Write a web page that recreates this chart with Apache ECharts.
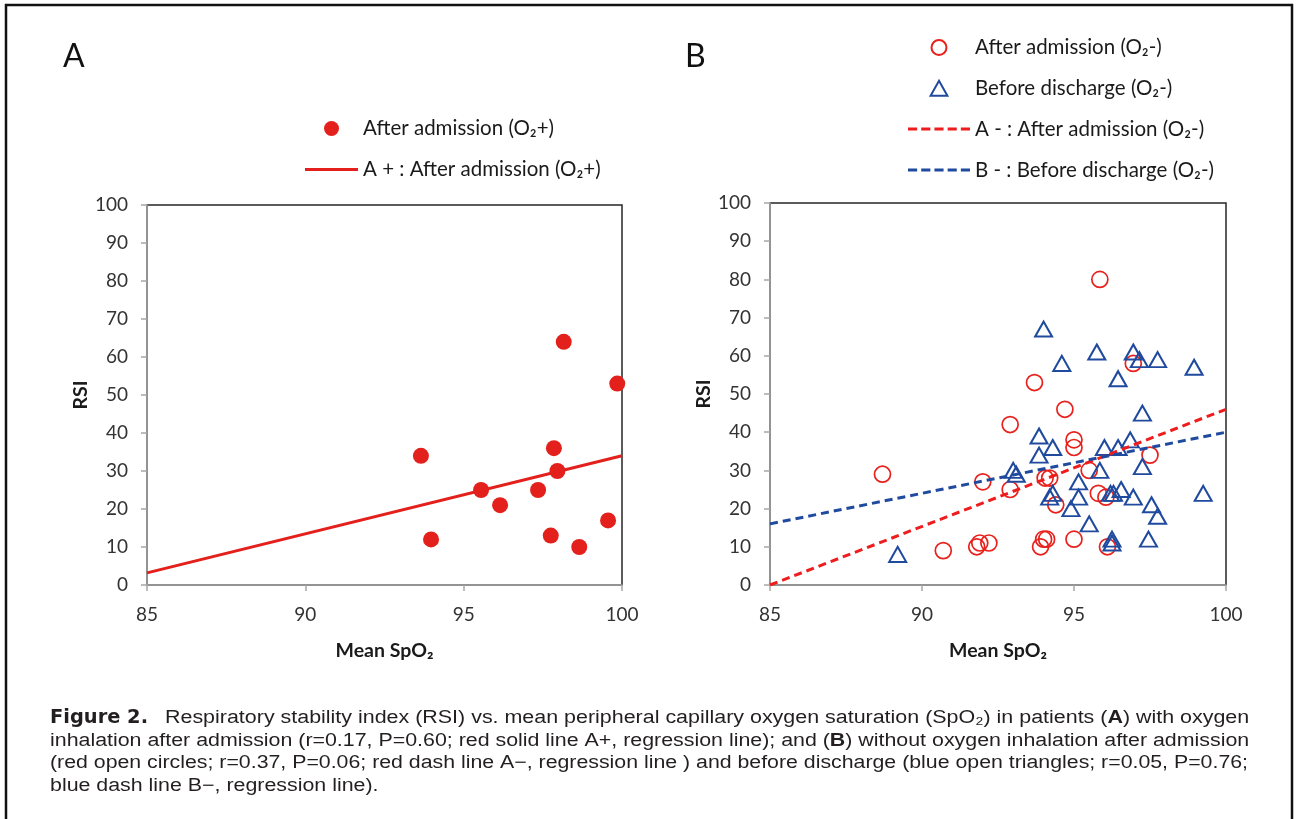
<!DOCTYPE html>
<html>
<head>
<meta charset="utf-8">
<script src="https://cdn.jsdelivr.net/npm/echarts@6/dist/echarts.min.js"></script>
<style>
  html, body { margin: 0; padding: 0; background: #fff; }
  #main { width: 1298px; height: 819px; }
</style>
</head>
<body>
<div id="main"></div>
<script>
// tick labels
var xTicks = [85, 90, 95, 100];
var yTicks = [0, 10, 20, 30, 40, 50, 60, 70, 80, 90, 100];

// panel A: with oxygen after admission
var afterAdmissionPlus = [
  [93.65, 34], [93.97, 12], [95.55, 25], [96.15, 21], [97.35, 25], [98.16, 64],
  [97.85, 36], [97.96, 30], [97.75, 13], [98.65, 10], [99.56, 17], [99.85, 53]
];
var regressionAPlus = [[85, 3.2], [100, 34]];

// panel B: without oxygen
var afterAdmissionMinus = [
  [88.7, 29], [90.7, 9], [91.8, 10], [91.9, 11], [92.2, 11], [92.0, 27], [92.9, 25],
  [92.9, 42], [93.7, 53], [93.9, 10], [94.0, 12], [94.1, 12], [94.05, 28], [94.2, 28],
  [94.4, 21], [94.7, 46], [95.0, 38], [95.0, 36], [95.0, 12], [95.5, 30], [95.8, 24],
  [95.85, 80], [96.05, 23], [96.1, 10], [96.95, 58], [97.5, 34]
];
var beforeDischargeMinus = [
  [89.2, 8], [93.0, 30], [93.1, 29], [93.85, 39], [93.85, 34], [94.0, 67], [94.3, 36],
  [94.3, 24], [94.2, 23], [94.6, 58], [94.9, 20], [95.15, 27], [95.15, 23], [95.5, 16],
  [95.75, 61], [95.85, 30], [96.0, 36], [96.2, 24], [96.25, 12], [96.25, 11], [96.3, 24],
  [96.45, 36], [96.45, 54], [96.55, 25], [96.85, 38], [96.95, 61], [96.95, 23], [97.15, 59],
  [97.25, 45], [97.25, 31], [97.45, 12], [97.55, 21], [97.75, 59], [97.75, 18], [98.95, 57],
  [99.25, 24]
];
var regressionAMinus = [[85, 0], [100, 46]];
var regressionBMinus = [[85, 16], [100, 40]];

var captionLines = [
  'Respiratory stability index (RSI) vs. mean peripheral capillary oxygen saturation (SpO₂) in patients ({b|A}) with oxygen',
  'inhalation after admission (r=0.17, P=0.60; red solid line A+, regression line); and ({b|B}) without oxygen inhalation after admission',
  '(red open circles; r=0.37, P=0.06; red dash line A\u2212, regression line ) and before discharge (blue open triangles; r=0.05, P=0.76;',
  'blue dash line B\u2212, regression line).'
];

var RED = '#e3201b';
var BLUE = '#1f4a9e';
var chartFont = 'Lato';

var chart = echarts.init(document.getElementById('main'));

function xAxisFor(gridIndex) {
  return {
    type: 'value', gridIndex: gridIndex,
    min: xTicks[0], max: xTicks[xTicks.length - 1], interval: xTicks[1] - xTicks[0],
    name: 'Mean SpO₂', nameLocation: 'middle', nameGap: 56,
    nameTextStyle: { fontFamily: chartFont, fontWeight: 'bold', fontSize: 19.5, color: '#1a1a1a' },
    axisLine: { onZero: false, lineStyle: { color: '#a6a6a6', width: 1.5 } },
    axisTick: { show: true, length: 6, lineStyle: { color: '#a6a6a6', width: 1.5 } },
    axisLabel: { fontFamily: chartFont, fontSize: 19, color: '#333', margin: 20 },
    splitLine: { show: false }
  };
}
function yAxisFor(gridIndex) {
  return {
    type: 'value', gridIndex: gridIndex,
    min: yTicks[0], max: yTicks[yTicks.length - 1], interval: yTicks[1] - yTicks[0],
    name: 'RSI', nameLocation: 'middle', nameGap: 52, nameRotate: 90,
    nameTextStyle: { fontFamily: chartFont, fontWeight: 'bold', fontSize: 19.5, color: '#1a1a1a' },
    axisLine: { onZero: false, lineStyle: { color: '#a6a6a6', width: 1.5 } },
    axisTick: { show: true, length: 6, lineStyle: { color: '#a6a6a6', width: 1.5 } },
    axisLabel: { fontFamily: chartFont, fontSize: 19, color: '#333', margin: 19 },
    splitLine: { show: false }
  };
}

var legendText = { fontFamily: chartFont, fontSize: 20.5, color: '#1a1a1a', lineHeight: 20 };

// legend icons for the regression lines (solid / dashed strokes)
var solidIcon = 'path://M0,0h53v3h-53z';
var dashIcon = 'path://M0,0h9v3h-9z M13,0h9v3h-9z M26,0h9v3h-9z M39,0h9v3h-9z M52,0h9v3h-9z';
var triangleIcon = 'path://M7,0L14,12.5L0,12.5Z';

// caption: stretch each line to the justified width of the printed figure
var captionFont = "'Liberation Sans', Arial, sans-serif";
var measureCtx = document.createElement('canvas').getContext('2d');
function plainWidth(text, weight) {
  measureCtx.font = (weight || 'normal') + ' 18px ' + captionFont;
  return measureCtx.measureText(text.replace(/\{b\|([^}]*)\}/g, '$1')).width;
}
var captionRich = {
  b: { fontFamily: captionFont, fontSize: 18, fontWeight: 'bold', fill: '#231f20' }
};
function captionLine(x, y, text, width) {
  var sx = width / plainWidth(text);
  return {
    type: 'text', x: x, y: y, scaleX: sx,
    style: {
      text: text, fontFamily: captionFont, fontSize: 18, fill: '#231f20',
      verticalAlign: 'middle', rich: captionRich
    }
  };
}
var line2Scale = 1198 / plainWidth(captionLines[1]);
var figFont = "'DejaVu Sans Condensed', 'Liberation Sans Narrow', sans-serif";
measureCtx.font = 'bold 19px ' + figFont;
var figScale = 98 / measureCtx.measureText('Figure 2.').width;

chart.setOption({
  animation: false,
  backgroundColor: '#fff',
  grid: [
    { left: 147, right: 676, top: 205, bottom: 234, show: true, borderColor: '#262626', borderWidth: 1.5 },
    { left: 770, right: 72, top: 203, bottom: 234, show: true, borderColor: '#262626', borderWidth: 1.5 }
  ],
  xAxis: [xAxisFor(0), xAxisFor(1)],
  yAxis: [yAxisFor(0), yAxisFor(1)],
  legend: [{
    data: [
      { name: 'After admission (O₂+)', icon: 'circle' },
      { name: 'A + : After admission (O₂+)', icon: solidIcon }
    ],
    orient: 'vertical', left: 305, top: 118, padding: 0,
    itemWidth: 53, itemHeight: 15, itemGap: 20,
    textStyle: legendText
  }, {
    data: [
      { name: 'After admission (O₂-)', icon: 'circle' },
      { name: 'Before discharge (O₂-)', icon: triangleIcon },
      { name: 'A - : After admission (O₂-)', icon: dashIcon },
      { name: 'B - : Before discharge (O₂-)', icon: dashIcon }
    ],
    orient: 'vertical', left: 908, top: 37, padding: 0,
    itemWidth: 62, itemHeight: 15, itemGap: 19.8,
    textStyle: legendText
  }],
  series: [{
    name: 'After admission (O₂+)', type: 'scatter', xAxisIndex: 0, yAxisIndex: 0,
    symbol: 'circle', symbolSize: 16,
    itemStyle: { color: RED, opacity: 1 },
    data: afterAdmissionPlus
  }, {
    name: 'A + : After admission (O₂+)', type: 'line', xAxisIndex: 0, yAxisIndex: 0,
    symbol: 'none', itemStyle: { color: RED },
    lineStyle: { color: RED, width: 3 },
    data: regressionAPlus
  }, {
    name: 'After admission (O₂-)', type: 'scatter', xAxisIndex: 1, yAxisIndex: 1,
    symbol: 'circle', symbolSize: 16,
    itemStyle: { color: 'rgba(255,255,255,0)', borderColor: '#e8211d', borderWidth: 1.7, opacity: 1 },
    data: afterAdmissionMinus
  }, {
    name: 'Before discharge (O₂-)', type: 'scatter', xAxisIndex: 1, yAxisIndex: 1,
    symbol: 'triangle', symbolSize: [17, 15],
    itemStyle: { color: 'rgba(255,255,255,0)', borderColor: BLUE, borderWidth: 2, opacity: 1 },
    data: beforeDischargeMinus
  }, {
    name: 'A - : After admission (O₂-)', type: 'line', xAxisIndex: 1, yAxisIndex: 1,
    symbol: 'none', itemStyle: { color: '#ee1c1c' },
    lineStyle: { color: '#ee1c1c', width: 3, type: [8, 5] },
    data: regressionAMinus
  }, {
    name: 'B - : Before discharge (O₂-)', type: 'line', xAxisIndex: 1, yAxisIndex: 1,
    symbol: 'none', itemStyle: { color: BLUE },
    lineStyle: { color: BLUE, width: 3, type: [8, 5] },
    data: regressionBMinus
  }],
  graphic: [
    // frame around the figure
    { type: 'polyline', shape: { points: [[6, 830], [6, 5], [1292, 5], [1292, 830]] },
      style: { stroke: '#111', lineWidth: 2.5, fill: null } },
    { type: 'text', x: 63, y: 57, style: { text: 'A', fontFamily: chartFont, fontSize: 32, fill: '#111', verticalAlign: 'middle' } },
    { type: 'text', x: 685, y: 57, style: { text: 'B', fontFamily: chartFont, fontSize: 32, fill: '#111', verticalAlign: 'middle' } },
    { type: 'text', x: 50, y: 718, scaleX: figScale,
      style: { text: 'Figure 2.', fontFamily: figFont, fontWeight: 'bold', fontSize: 19,
               fill: '#231f20', verticalAlign: 'middle' } },
    captionLine(165, 718, captionLines[0], 1083),
    captionLine(50, 741, captionLines[1], 1198),
    captionLine(50, 763, captionLines[2], 1198),
    captionLine(50, 786, captionLines[3], plainWidth(captionLines[3]) * line2Scale)
  ]
});
</script>
</body>
</html>
